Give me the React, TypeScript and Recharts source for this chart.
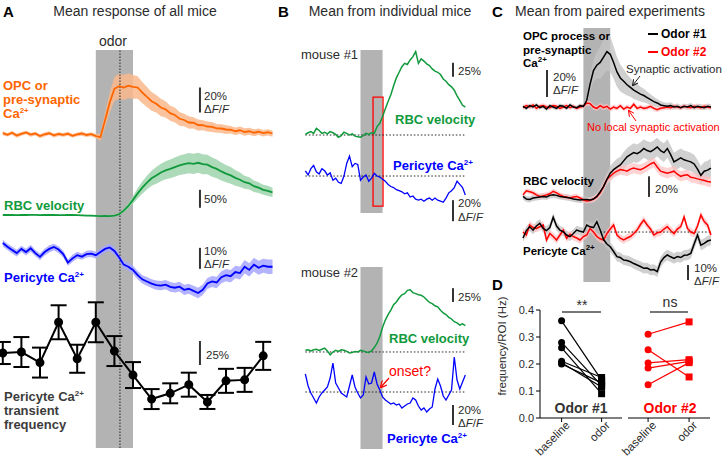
import React from 'react'
import { ComposedChart, LineChart, Line, Area, XAxis, YAxis, ReferenceArea, ReferenceLine, ErrorBar } from 'recharts'

const FONT = "'Liberation Sans', Arial, Helvetica, sans-serif"

// time grid (s), 0.5 s steps
const grid = (from: number, to: number) =>
  Array.from({ length: Math.round((to - from) / 0.5) + 1 }, (_, i) => from + i * 0.5)

const timeA = grid(-10, 19)
const timeB = grid(-10, 19)
const timeC = grid(-9, 19)

// ---- panel A: mean of all mice ----
const aOpc = [1.5, 0.2, 1.8, -0.5, 0.9, 2.0, 0.3, 1.2, -0.8, 0.6, 1.4, -0.3, 0.8, 0.1, 1.1, -0.6, 0.5, 1.2, 0.0, 0.7,
  -0.8, -1.8, 12, 26, 37, 39, 38, 39.5, 38.5, 38, 34, 30.5, 27, 25, 22, 20.5, 17.5, 16, 13, 12, 10, 9.8, 8, 7.8, 6.8, 6.5, 5.3, 5.2, 4.4, 4.2, 3.0, 3.8, 2.4, 3.0, 1.8, 2.6, 1.5, 2.2, 1.2]
const aOpcErr = [1.6, 1.4, 1.5, 1.7, 1.5, 1.4, 1.6, 1.5, 1.5, 1.7, 1.4, 1.6, 1.5, 1.5, 1.6, 1.4, 1.5, 1.7, 1.5, 1.6,
  1.8, 3, 6, 8, 9.5, 10, 10, 10, 9.5, 9, 8.5, 8, 7.5, 7, 7, 6.5, 6, 6, 5.5, 5, 5, 4.5, 4.5, 4, 4, 4, 3.5, 3.5, 3.5, 3, 3, 3, 3, 2.8, 2.8, 2.6, 2.6, 2.5, 2.5]
const aRbc = [0, 0.5, 0, -0.5, 0.3, 0, 0.5, 0.2, -0.3, 0, 0.4, 0, -0.5, -0.2, 0.3, 0, -0.5, -1, -1.5, -2,
  -2.5, -3, -2.5, -3, -1.5, 2, 12, 25, 42, 60, 76, 90, 102, 110, 118, 124, 128, 133, 138, 141, 144, 142, 145, 141, 140, 133, 128, 121, 115, 110, 103, 98, 91, 88, 80, 76, 70, 67, 63]
const aRbcErr = [1, 1, 1, 1, 1, 1, 1, 1, 1, 1, 1, 1, 1, 1, 1, 1, 1, 1.5, 1.5, 1.5,
  2, 2, 2, 2, 2.5, 3, 5, 8, 11, 14, 17, 19, 21, 23, 24, 25, 26, 27, 27, 28, 28, 28, 28, 28, 27, 27, 26, 25, 24, 23, 22, 20, 18, 17, 16, 15, 14, 14, 13]
const aPeri = [3.3, 1.5, 0, -1.5, 0.5, -1, 0.8, -1.5, -3.3, -1, 0.5, 1.4, 0.2, -2, -6, -4, -2.5, -3.2, -2, -1.8,
  -2.5, -1, 0.5, 1.2, -0.5, -3.5, -7, -8, -9.5, -12, -14, -15, -16, -16.7, -17, -16.5, -17.6, -18, -17.5, -19, -18.5, -19.5, -20.5, -19, -16, -15, -15.5, -13, -12, -12.5, -10.5, -11, -8, -9.5, -7, -8.5, -7.5, -8, -8]
const aPeriErr = [1.6, 1.5, 1.7, 1.6, 1.5, 1.6, 1.7, 1.5, 1.6, 1.6, 1.7, 1.5, 1.6, 1.6, 1.5, 1.7, 1.6, 1.5, 1.6, 1.6,
  1.6, 1.7, 1.6, 1.7, 1.8, 1.8, 1.9, 1.9, 2, 2, 2, 2.1, 2.1, 2.2, 2.2, 2.2, 2.3, 2.3, 2.3, 2.4, 2.4, 2.4, 2.5, 2.5, 2.6, 2.6, 2.7, 2.8, 2.9, 3, 3, 3.1, 3.2, 3.2, 3.3, 3.3, 3.3, 3.4, 3.4]
const freqTime = [-10, -8, -6, -4, -2, 0, 2, 4, 6, 8, 10, 12, 14, 16, 18]
const freqValue = [100, 101, 90, 132, 94, 132, 102, 77, 52, 58, 67, 49, 71, 72, 97]
const freqErr = [11.5, 15.6, 15.6, 17.7, 14.6, 20.8, 15.6, 13.5, 10.4, 10.4, 12.5, 7.3, 12.5, 12.5, 14.6]

// ---- panel B: individual mice ----
const m1Rbc = [1, 4, 6, 3, 12, 8, 3, 5, 2, 6, 4, 1, -4, -1, 5, 3, 0, 2, -2, -3,
  -4, -1, 3, 1, 4, 3, 15, 21, 33, 47, 60, 72, 88, 102, 112, 122, 128, 126, 134, 140, 149, 128, 136, 132, 127, 124, 118, 114, 112, 108, 100, 96, 90, 86, 80, 70, 62, 53, 50]
const m1Peri = [5, 1, 7, 10, 4, 2, 7, 5, 1, 3, -4, -2, -6, -7, 0, 12, 19, 9, 12, 11,
  -4, -1, 1, -5, -2, 2.5, 0, -1, -3, -5, -8, -10, -11, -13, -14, -15, -17, -16, -20, -19, -22, -23, -22, -24, -22, -21, -23, -21, -23, -24, -25, -21, -16, -14, -11, -5, -8, -11, -18]
const m2Rbc = [3, 4, 2, 4, 5, 3, 5, 7, 2, -5, 0, 3, 1, 4, 3, 1, -2, -1, 1, 0,
  3, 2, 0, -1, 2, 8, 16, 28, 45, 58, 68, 76, 86, 91, 98, 104, 106, 112, 113, 108, 106, 104, 103, 100, 95, 90, 88, 84, 82, 76, 71, 68, 63, 60, 55, 53, 49, 51, 48]
const m2Peri = [18, 6, -1, -6, -11, -5, -1, 2, 5, 14, 29, 9, 4, -1, -3, -5, 6, 17, 5, -1,
  -6, -3, 15, 8, 9, 20, 8, 2, -5, -8, -10, -12, -11, -13, -12, -16, -14, -12, -11, -6, -8, -14, -18, -16, -20, -17, -15, 3, 13, 6, -4, -8, -3, 2, 35, 12, 3, 10, 17]

// ---- panel C: paired experiments (odor #1 black, odor #2 red) ----
const cOpc1 = [0.5, -1, 1, 0, 1.5, -0.5, 0.5, -1.5, 1, 0, -1, 1, 0.5, -1, 1.5, 0, -0.5, 1,
  0.5, 5, 17, 27, 31, 33, 37, 41, 39, 33, 26, 21.5, 19, 16.5, 14.5, 12.5, 11, 9.5, 8.5, 7, 5.5, 4, 3, 1.5, 1, 0.5, 1, 0, 0.5, -0.5, 0.5, 0, 1, -0.5, 0.5, 0, -0.5, 0.5, 0]
const cOpc1Err = [1.5, 1.6, 1.5, 1.4, 1.6, 1.5, 1.5, 1.6, 1.4, 1.5, 1.6, 1.5, 1.5, 1.4, 1.6, 1.5, 1.5, 1.6,
  1.6, 3, 6, 8, 10, 12, 13, 14, 13, 12, 11, 10, 9, 8, 7, 6.5, 6, 5.5, 5, 4.5, 4, 3.5, 3, 3, 2.5, 2.5, 2.5, 2, 2, 2, 2, 2, 2, 2, 2, 2, 2, 2, 2]
const cOpc2 = [-0.5, 1, 0, 1.5, -1, 0.5, 1, 0, -0.5, 1, 0.5, -1, 0, 1, -0.5, 0.5, -1, 0,
  0.5, 3, 2.5, 0, -1, 1, -0.5, 0.5, -1.5, 0, -1, 1, -1.5, 0, -1, 2, -1, 0, -1, -0.5, 0.5, -1, -2, -1, -0.5, 0, -0.5, 0.5, 0, -0.5, 0.5, 0, -0.5, 0.5, 0, -0.5, 0.5, 0, -0.5]
const cOpc2Err = [1.8, 1.7, 1.8, 1.9, 1.8, 1.7, 1.8, 1.8, 1.9, 1.8, 1.7, 1.8, 1.8, 1.9, 1.8, 1.7, 1.8, 1.8,
  1.9, 2, 2, 2, 2, 1.9, 1.9, 1.9, 1.8, 1.8, 1.8, 1.8, 1.9, 1.8, 1.8, 1.8, 1.9, 1.8, 1.8, 1.8, 1.8, 1.9, 1.8, 1.8, 1.8, 1.8, 1.9, 1.8, 1.8, 1.8, 1.8, 1.9, 1.8, 1.8, 1.8, 1.8, 1.9, 1.8, 1.8]
const cRbc1 = [1.5, -1, -1.5, 0, 0.5, 1, 1.5, 1, 2.5, 3, 2.5, 1.5, 1, 0.5, 0, -1, -1.5, -2,
  -1.5, -1.5, -2, -1, 1.5, 6, 11, 18, 24, 27.5, 30, 32, 36, 40, 42, 44, 43, 45, 48, 46, 45, 47, 49.5, 46, 44, 48, 42, 35, 37, 39, 37, 36, 35, 33, 28, 22, 26, 27, 29]
const cRbc1Err = [3, 3, 3, 3, 3, 3, 3, 3, 3, 3, 3, 3, 3, 3, 3, 3, 3, 3,
  3, 3, 3, 3.5, 4, 5, 6, 6.5, 7, 7.5, 8, 8, 8.5, 8.5, 9, 9, 9, 9, 9, 9, 9, 9, 9, 9, 9, 9, 9, 9, 9, 9, 9, 9, 9, 9, 9, 9, 9, 9, 9]
const cRbc2 = [3, 7, 6, 5, 3, 1.5, 2, 3, 4, 6.5, 5, 3, 1.5, 1, 0, 1, 1.5, 0,
  -2, -3, -2.5, -1, 1, 5, 11, 18, 21, 24, 26, 27.5, 27, 26, 28, 29, 28, 27.5, 29, 31, 33, 34.5, 30, 26, 25, 24, 25, 26, 23, 21, 22, 22.5, 20, 19.5, 18.5, 17.8, 17, 16, 15.5]
const cRbc2Err = [2.5, 2.5, 2.5, 2.5, 2.5, 2.5, 2.5, 2.5, 2.5, 2.5, 2.5, 2.5, 2.5, 2.5, 2.5, 2.5, 2.5, 2.5,
  2.5, 2.5, 2.5, 3, 3, 3.5, 4, 4, 4.5, 4.5, 5, 5, 5, 5, 5, 5, 5, 5, 5, 5, 5, 5, 5, 5, 5, 5, 5, 5, 5, 5, 5, 5, 5, 5, 5, 5, 5, 5, 5]
const cPeri1 = [-4, 1, 3.5, 1.3, 4, 5.8, 2.4, 1, 3, 9.8, 4, 1.3, 0.2, -2, -3.1, -1, 1.3, 0.5,
  0, 4.7, 3.5, 3, 6.9, 1.3, -5, -8, -9.8, -13, -16.4, -17, -18.7, -19, -19.8, -21, -22, -23, -24.2, -24, -25.3, -25, -26.4, -20, -17, -15.3, -16.5, -17.6, -16.4, -17, -15.5, -15.3, -14.2, -8, -2, -8.7, -7.6, -6, -5.3]
const cPeri1Err = [2.8, 2.9, 2.8, 2.8, 2.9, 2.8, 2.8, 2.9, 2.8, 2.8, 2.9, 2.8, 2.8, 2.9, 2.8, 2.8, 2.9, 2.8,
  2.8, 2.9, 2.9, 3, 3, 3, 3.1, 3.1, 3.2, 3.2, 3.3, 3.3, 3.3, 3.4, 3.4, 3.4, 3.4, 3.5, 3.5, 3.5, 3.5, 3.5, 3.5, 3.5, 3.5, 3.5, 3.5, 3.5, 3.5, 3.5, 3.5, 3.5, 3.5, 3.5, 3.5, 3.5, 3.5, 3.5, 3.5]
const cPeri2 = [0, -2, 4.7, 3, 2.4, 3.5, 4.7, -5.3, -1, -3, -5.3, -2, 1.3, -4.2, -1.5, -3, -4, -5.3,
  -3, -2, 2.4, 0, -3, -4.5, -5.3, -1, 2, 4.7, -2, -4, -5.3, -4, -3, -1, 1.3, 5, 8, 4.7, 2, -2, -0.5, 0, 2, 3.6, 1, -1, 2, 3.6, 10, 2.4, 0, -1, 4, 11.3, 7, 4.7, -2]
const cPeri2Err = [2.5, 2.5, 2.6, 2.5, 2.5, 2.6, 2.5, 2.5, 2.6, 2.5, 2.5, 2.6, 2.5, 2.5, 2.6, 2.5, 2.5, 2.6,
  2.5, 2.5, 2.6, 2.5, 2.5, 2.6, 2.5, 2.5, 2.6, 2.5, 2.5, 2.6, 2.5, 2.5, 2.6, 2.5, 2.5, 2.6, 2.5, 2.5, 2.6, 2.5, 2.5, 2.6, 2.5, 2.5, 2.6, 2.5, 2.5, 2.6, 2.5, 2.5, 2.6, 2.5, 2.5, 2.6, 2.5, 2.5, 2.6]

// ---- panel D: transient frequency per ROI (Hz) ----
const conditions = ['baseline', 'odor']
const odor1Baseline = [0.36, 0.28, 0.26, 0.21, 0.205, 0.2]
const odor1Odor = [0.14, 0.12, 0.09, 0.15, 0.115, 0.13]
const odor2Baseline = [0.31, 0.253, 0.204, 0.185, 0.123]
const odor2Odor = [0.356, 0.152, 0.216, 0.21, 0.205]

const C = {
  orange: '#ff6600', orangeFill: '#f9b88c',
  green: '#119a3c', greenFill: '#9fd4ad',
  blue: '#0000ff', blueFill: '#a6a6ff',
  red: '#ff0000', redFill: '#ffc0c0',
  greyFill: '#c4c4c4', band: '#b3b3b3', text: '#2b2b2b',
}

const band = (v: number[], e: number[], i: number) => [v[i] - e[i], v[i] + e[i]]

const rowsA = timeA.map((t, i) => ({
  t,
  opc: aOpc[i], opcBand: band(aOpc, aOpcErr, i),
  rbc: aRbc[i], rbcBand: band(aRbc, aRbcErr, i),
  peri: aPeri[i], periBand: band(aPeri, aPeriErr, i),
}))
const rowsFreq = freqTime.map((t, i) => ({ t, f: freqValue[i], e: freqErr[i] }))
const rowsB = timeB.map((t, i) => ({ t, g1: m1Rbc[i], b1: m1Peri[i], g2: m2Rbc[i], b2: m2Peri[i] }))
const rowsC = timeC.map((t, i) => ({
  t,
  opc1: cOpc1[i], opc1Band: band(cOpc1, cOpc1Err, i),
  opc2: cOpc2[i], opc2Band: band(cOpc2, cOpc2Err, i),
  rbc1: cRbc1[i], rbc1Band: band(cRbc1, cRbc1Err, i),
  rbc2: cRbc2[i], rbc2Band: band(cRbc2, cRbc2Err, i),
  peri1: cPeri1[i], peri1Band: band(cPeri1, cPeri1Err, i),
  peri2: cPeri2[i], peri2Band: band(cPeri2, cPeri2Err, i),
}))
const pairRows = (base: number[], odor: number[]) =>
  [base, odor].map((vals, x) => {
    const row: any = { x }
    vals.forEach((v, i) => { row[`s${i}`] = v })
    return row
  })

const M = { top: 0, right: 0, bottom: 0, left: 0 }
const NA = false

// vertical scale bar drawn in the trace's own units
const bar = (axis: string, x: number, y1: number, y2: number) => (
  <ReferenceLine key={`${axis}-bar`} yAxisId={axis} segment={[{ x, y: y1 }, { x, y: y2 }]} stroke="#333" strokeWidth={2} ifOverflow="visible" />
)
const zero = (axis: string, from: number, to: number) => (
  <ReferenceLine key={`${axis}-zero`} yAxisId={axis} segment={[{ x: from, y: 0 }, { x: to, y: 0 }]} stroke="#222" strokeDasharray="1.5 2" strokeWidth={1} ifOverflow="visible" />
)

const pairDot = (color: string) => (p: any) => {
  const { cx, cy, index } = p
  if (cx == null || cy == null) return <g key={`n${index}`} />
  return index === 0
    ? <circle key={`c${index}`} cx={cx} cy={cy} r={3.5} fill={color} stroke="none" />
    : <rect key={`r${index}`} x={cx - 3.5} y={cy - 3.5} width={7} height={7} fill={color} stroke="none" />
}

const RotTick = (p: any) => {
  const { x, y, payload } = p
  const px = x + 9
  const py = y + 2
  return (
    <text x={px} y={py} transform={`rotate(-45, ${px}, ${py})`} textAnchor="end" fontSize={11.5} fill={C.text} fontFamily={FONT}>
      {conditions[payload.value]}
    </text>
  )
}

const Sup = ({ children }: { children: string }) => <tspan dy={-5} fontSize={8}>{children}</tspan>
const DFF = ({ x, y }: { x: number; y: number }) => (
  <text x={x} y={y} fontSize={11.5} fill={C.text}>Δ<tspan fontStyle="italic">F</tspan>/<tspan fontStyle="italic">F</tspan></text>
)

export default function App() {
  return (
    <div style={{ position: 'absolute', left: 0, top: 0, width: 725, height: 459, background: '#fff', overflow: 'hidden', fontFamily: FONT }}>
      {/* A: mean traces */}
      <div style={{ position: 'absolute', left: 0, top: 50 }}>
        <ComposedChart width={290} height={398} data={rowsA} margin={M}>
          <XAxis type="number" dataKey="t" domain={[-10.3, 20.88]} hide allowDataOverflow />
          <YAxis yAxisId="opc" domain={[-250.4, 68]} hide allowDataOverflow />
          <YAxis yAxisId="rbc" domain={[-647.2, 458.3]} hide allowDataOverflow />
          <YAxis yAxisId="peri" domain={[-94.3, 95.2]} hide allowDataOverflow />
          <ReferenceArea yAxisId="opc" x1={0} x2={4} fill={C.band} fillOpacity={1} stroke="none" zIndex={-50} />
          <ReferenceLine yAxisId="opc" x={2.6} stroke="#222" strokeDasharray="1.5 1.5" strokeWidth={1} />
          <Area yAxisId="opc" dataKey="opcBand" fill={C.orangeFill} fillOpacity={0.85} stroke="none" isAnimationActive={false} />
          <Area yAxisId="rbc" dataKey="rbcBand" fill={C.greenFill} fillOpacity={0.85} stroke="none" isAnimationActive={false} />
          <Area yAxisId="peri" dataKey="periBand" fill={C.blueFill} fillOpacity={0.85} stroke="none" isAnimationActive={false} />
          <Line yAxisId="opc" dataKey="opc" stroke={C.orange} strokeWidth={1.8} dot={NA} activeDot={NA} isAnimationActive={false} />
          <Line yAxisId="rbc" dataKey="rbc" stroke={C.green} strokeWidth={1.8} dot={NA} activeDot={NA} isAnimationActive={false} />
          <Line yAxisId="peri" dataKey="peri" stroke={C.blue} strokeWidth={1.8} dot={NA} activeDot={NA} isAnimationActive={false} />
          {bar('opc', 11.2, 18, 38)}
          {bar('rbc', 11.2, 20, 70)}
          {bar('peri', 11.2, -9, 1)}
        </ComposedChart>
      </div>
      {/* A: transient frequency */}
      <div style={{ position: 'absolute', left: 0, top: 50 }}>
        <ComposedChart width={290} height={398} data={rowsFreq} margin={M}>
          <XAxis type="number" dataKey="t" domain={[-10.3, 20.88]} hide allowDataOverflow />
          <YAxis yAxisId="f" domain={[1.04, 415.6]} hide allowDataOverflow />
          <Line yAxisId="f" dataKey="f" stroke="#000" strokeWidth={2} dot={{ r: 3.5, fill: '#000', stroke: '#000' }} activeDot={NA} isAnimationActive={false}>
            <ErrorBar dataKey="e" width={8} stroke="#000" strokeWidth={2} direction="y" />
          </Line>
          {bar('f', 11.2, 87.5, 112.5)}
        </ComposedChart>
      </div>

      {/* B: mouse #1 */}
      <div style={{ position: 'absolute', left: 300, top: 50 }}>
        <ComposedChart width={170} height={180} data={rowsB} margin={M}>
          <XAxis type="number" dataKey="t" domain={[-10.97, 19.85]} hide allowDataOverflow />
          <YAxis yAxisId="g" domain={[-169.6, 151.8]} hide allowDataOverflow />
          <YAxis yAxisId="b" domain={[-51.4, 120]} hide allowDataOverflow />
          <ReferenceArea yAxisId="b" x1={0} x2={4} y1={-35.2} y2={120} fill={C.band} fillOpacity={1} stroke="none" zIndex={-50} />
          {zero('g', -10, 19)}
          {zero('b', -10, 19)}
          <Line yAxisId="g" dataKey="g1" stroke={C.green} strokeWidth={1.5} dot={NA} activeDot={NA} isAnimationActive={false} />
          <Line yAxisId="b" dataKey="b1" stroke={C.blue} strokeWidth={1.3} dot={NA} activeDot={NA} isAnimationActive={false} />
          <ReferenceArea yAxisId="b" x1={2.27} x2={4.08} y1={-28.6} y2={75.2} fill="none" fillOpacity={0} stroke={C.red} strokeWidth={1.3} />
          {bar('g', 16.77, 104, 129)}
          {bar('b', 16.77, -43, -23)}
        </ComposedChart>
      </div>
      {/* B: mouse #2 */}
      <div style={{ position: 'absolute', left: 300, top: 267 }}>
        <ComposedChart width={170} height={182} data={rowsB} margin={M}>
          <XAxis type="number" dataKey="t" domain={[-10.97, 19.85]} hide allowDataOverflow />
          <YAxis yAxisId="g" domain={[-176.4, 154.5]} hide allowDataOverflow />
          <YAxis yAxisId="b" domain={[-57, 125]} hide allowDataOverflow />
          <ReferenceArea yAxisId="b" x1={0} x2={4} fill={C.band} fillOpacity={1} stroke="none" zIndex={-50} />
          {zero('g', -10, 19)}
          {zero('b', -10, 19)}
          <Line yAxisId="g" dataKey="g2" stroke={C.green} strokeWidth={1.5} dot={NA} activeDot={NA} isAnimationActive={false} />
          <Line yAxisId="b" dataKey="b2" stroke={C.blue} strokeWidth={1.3} dot={NA} activeDot={NA} isAnimationActive={false} />
          {bar('g', 16.77, 91, 116)}
          {bar('b', 16.77, -33, -13)}
        </ComposedChart>
      </div>

      {/* C: paired experiments */}
      <div style={{ position: 'absolute', left: 515, top: 28 }}>
        <ComposedChart width={205} height={254} data={rowsC} margin={M}>
          <XAxis type="number" dataKey="t" domain={[-10.19, 20.35]} hide allowDataOverflow />
          <YAxis yAxisId="opc" domain={[-129.6, 58.5]} hide allowDataOverflow />
          <YAxis yAxisId="rbc" domain={[-81.6, 165]} hide allowDataOverflow />
          <YAxis yAxisId="peri" domain={[-33.3, 136]} hide allowDataOverflow />
          <ReferenceArea yAxisId="opc" x1={0} x2={4} fill={C.band} fillOpacity={1} stroke="none" zIndex={-50} />
          <Area yAxisId="opc" dataKey="opc1Band" fill={C.greyFill} fillOpacity={0.8} stroke="none" isAnimationActive={false} />
          <Area yAxisId="opc" dataKey="opc2Band" fill={C.redFill} fillOpacity={0.7} stroke="none" isAnimationActive={false} />
          <Area yAxisId="rbc" dataKey="rbc1Band" fill={C.greyFill} fillOpacity={0.8} stroke="none" isAnimationActive={false} />
          <Area yAxisId="rbc" dataKey="rbc2Band" fill={C.redFill} fillOpacity={0.7} stroke="none" isAnimationActive={false} />
          <Area yAxisId="peri" dataKey="peri1Band" fill={C.greyFill} fillOpacity={0.8} stroke="none" isAnimationActive={false} />
          <Area yAxisId="peri" dataKey="peri2Band" fill={C.redFill} fillOpacity={0.7} stroke="none" isAnimationActive={false} />
          {zero('peri', 2.5, 19)}
          <Line yAxisId="opc" dataKey="opc2" stroke={C.red} strokeWidth={1.5} dot={NA} activeDot={NA} isAnimationActive={false} />
          <Line yAxisId="opc" dataKey="opc1" stroke="#000" strokeWidth={1.5} dot={NA} activeDot={NA} isAnimationActive={false} />
          <Line yAxisId="rbc" dataKey="rbc2" stroke={C.red} strokeWidth={1.5} dot={NA} activeDot={NA} isAnimationActive={false} />
          <Line yAxisId="rbc" dataKey="rbc1" stroke="#000" strokeWidth={1.5} dot={NA} activeDot={NA} isAnimationActive={false} />
          <Line yAxisId="peri" dataKey="peri2" stroke={C.red} strokeWidth={1.5} dot={NA} activeDot={NA} isAnimationActive={false} />
          <Line yAxisId="peri" dataKey="peri1" stroke="#000" strokeWidth={1.5} dot={NA} activeDot={NA} isAnimationActive={false} />
          {bar('opc', -5.42, 7.4, 27.4)}
          {bar('rbc', 9.77, 1, 21)}
          {bar('peri', 15.58, -32, -22)}
        </ComposedChart>
      </div>

      {/* D: odor #1 */}
      <div style={{ position: 'absolute', left: 480, top: 300 }}>
        <LineChart width={142} height={159} data={pairRows(odor1Baseline, odor1Odor)} margin={{ top: 10, right: 0, bottom: 0, left: 0 }}>
          <XAxis type="number" dataKey="x" domain={[-0.54, 1.51]} ticks={[0, 1]} interval={0} allowDataOverflow height={41}
            tickSize={4} tick={RotTick} axisLine={{ stroke: '#000' }} tickLine={{ stroke: '#000' }} />
          <YAxis domain={[0, 0.4]} ticks={[0, 0.1, 0.2, 0.3, 0.4]} width={60} tickSize={4} allowDataOverflow
            tickFormatter={(v: number) => v.toFixed(1)} tick={{ fontSize: 11, fill: C.text, fontFamily: FONT }}
            axisLine={{ stroke: '#000' }} tickLine={{ stroke: '#000' }} />
          {odor1Baseline.map((_, i) => (
            <Line key={i} dataKey={`s${i}`} stroke="#000" strokeWidth={1.2} dot={pairDot('#000')} activeDot={NA} isAnimationActive={false} />
          ))}
        </LineChart>
      </div>
      {/* D: odor #2 */}
      <div style={{ position: 'absolute', left: 598, top: 300 }}>
        <LineChart width={112} height={159} data={pairRows(odor2Baseline, odor2Odor)} margin={{ top: 10, right: 0, bottom: 0, left: 30 }}>
          <XAxis type="number" dataKey="x" domain={[-0.49, 1.51]} ticks={[0, 1]} interval={0} allowDataOverflow height={41}
            tickSize={4} tick={RotTick} axisLine={{ stroke: '#000' }} tickLine={{ stroke: '#000' }} />
          <YAxis domain={[0, 0.4]} hide allowDataOverflow />
          {odor2Baseline.map((_, i) => (
            <Line key={i} dataKey={`s${i}`} stroke={C.red} strokeWidth={1.2} dot={pairDot(C.red)} activeDot={NA} isAnimationActive={false} />
          ))}
        </LineChart>
      </div>

      {/* labels and annotations */}
      <svg width={725} height={459} style={{ position: 'absolute', left: 0, top: 0, pointerEvents: 'none' }} fontFamily={FONT}>
        <defs>
          <marker id="ahK" markerWidth="6" markerHeight="6" refX="5" refY="3" orient="auto">
            <path d="M0,0 L6,3 L0,6" fill="none" stroke="#222" strokeWidth="1" />
          </marker>
          <marker id="ahR" markerWidth="6" markerHeight="6" refX="5" refY="3" orient="auto">
            <path d="M0,0 L6,3 L0,6" fill="none" stroke={C.red} strokeWidth="1" />
          </marker>
        </defs>

        {/* A */}
        <text x={3} y={17} fontSize={15} fontWeight="bold" fill="#000">A</text>
        <text x={135} y={16} fontSize={14} textAnchor="middle" fill={C.text}>Mean response of all mice</text>
        <text x={113} y={46} fontSize={14} textAnchor="middle" fill={C.text}>odor</text>
        <g fontSize={13} fontWeight="bold" fill={C.orange}>
          <text x={3} y={90}>OPC or</text>
          <text x={3} y={104}>pre-synaptic</text>
          <text x={3} y={118}>Ca<Sup>2+</Sup></text>
        </g>
        <text x={204} y={100} fontSize={11.5} fill={C.text}>20%</text>
        <DFF x={204} y={113} />
        <text x={4} y={210} fontSize={13} fontWeight="bold" fill={C.green}>RBC velocity</text>
        <text x={204} y={203} fontSize={11.5} fill={C.text}>50%</text>
        <text x={204} y={255} fontSize={11.5} fill={C.text}>10%</text>
        <DFF x={204} y={268} />
        <text x={4} y={282} fontSize={13} fontWeight="bold" fill={C.blue}>Pericyte Ca<Sup>2+</Sup></text>
        <g fontSize={13} fontWeight="bold" fill="#3c3c3c">
          <text x={4} y={401}>Pericyte Ca<Sup>2+</Sup></text>
          <text x={4} y={415}>transient</text>
          <text x={4} y={429}>frequency</text>
        </g>
        <text x={206} y={359} fontSize={11.5} fill={C.text}>25%</text>

        {/* B */}
        <text x={278} y={17} fontSize={15} fontWeight="bold" fill="#000">B</text>
        <text x={390} y={16} fontSize={14} textAnchor="middle" fill={C.text}>Mean from individual mice</text>
        <text x={301} y={59} fontSize={13} fill={C.text}>mouse #1</text>
        <text x={395} y={124} fontSize={13} fontWeight="bold" fill={C.green}>RBC velocity</text>
        <text x={458} y={75} fontSize={11.5} fill={C.text}>25%</text>
        <text x={393} y={170} fontSize={13} fontWeight="bold" fill={C.blue}>Pericyte Ca<Sup>2+</Sup></text>
        <text x={458} y={207} fontSize={11.5} fill={C.text}>20%</text>
        <DFF x={458} y={221} />
        <text x={301} y={277} fontSize={13} fill={C.text}>mouse #2</text>
        <text x={389} y={343} fontSize={13} fontWeight="bold" fill={C.green}>RBC velocity</text>
        <text x={458} y={301} fontSize={11.5} fill={C.text}>25%</text>
        <text x={389} y={376} fontSize={14} fill={C.red}>onset?</text>
        <line x1={389} y1={378} x2={381} y2={387} stroke={C.red} strokeWidth={1.2} markerEnd="url(#ahR)" />
        <text x={458} y={414} fontSize={11.5} fill={C.text}>20%</text>
        <DFF x={458} y={427} />
        <text x={387} y={443} fontSize={13} fontWeight="bold" fill={C.blue}>Pericyte Ca<Sup>2+</Sup></text>

        {/* C */}
        <text x={492} y={17} fontSize={15} fontWeight="bold" fill="#000">C</text>
        <text x={610} y={16} fontSize={14} textAnchor="middle" fill={C.text}>Mean from paired experiments</text>
        <line x1={648} y1={34} x2={658} y2={34} stroke="#000" strokeWidth={2} />
        <text x={661} y={38} fontSize={12} fontWeight="bold" fill="#000">Odor #1</text>
        <line x1={648} y1={52} x2={658} y2={52} stroke={C.red} strokeWidth={2} />
        <text x={661} y={56} fontSize={12} fontWeight="bold" fill={C.red}>Odor #2</text>
        <g fontSize={11.5} fontWeight="bold" fill="#000">
          <text x={523} y={40}>OPC process or</text>
          <text x={523} y={54}>pre-synaptic</text>
          <text x={523} y={67}>Ca<Sup>2+</Sup></text>
          <text x={523} y={185}>RBC velocity</text>
          <text x={523} y={255}>Pericyte Ca<Sup>2+</Sup></text>
        </g>
        <text x={553} y={81} fontSize={11.5} fill={C.text}>20%</text>
        <DFF x={553} y={94} />
        <text x={626} y={73} fontSize={11.5} fill={C.text}>Synaptic activation</text>
        <line x1={640} y1={76} x2={633} y2={85} stroke="#222" strokeWidth={1} markerEnd="url(#ahK)" />
        <text x={587} y={131} fontSize={11} fill={C.red}>No local synaptic activation</text>
        <line x1={636} y1={121} x2={629} y2={111} stroke={C.red} strokeWidth={1} markerEnd="url(#ahR)" />
        <text x={655} y={193} fontSize={11.5} fill={C.text}>20%</text>
        <text x={694} y={272} fontSize={11.5} fill={C.text}>10%</text>
        <DFF x={694} y={285} />

        {/* D */}
        <text x={492} y={290} fontSize={15} fontWeight="bold" fill="#000">D</text>
        <text x={506} y={346} fontSize={11.5} textAnchor="middle" fill={C.text} transform="rotate(-90, 506, 346)">frequency/ROI (Hz)</text>
        <line x1={562} y1={312} x2={601} y2={312} stroke="#777" strokeWidth={2} />
        <text x={582} y={310} fontSize={14} textAnchor="middle" fill={C.text}>**</text>
        <line x1={650} y1={312} x2={688} y2={312} stroke="#777" strokeWidth={2} />
        <text x={670} y={307} fontSize={14} textAnchor="middle" fill={C.text}>ns</text>
        <text x={581} y={413} fontSize={14} fontWeight="bold" textAnchor="middle" fill="#333">Odor #1</text>
        <text x={670} y={413} fontSize={14} fontWeight="bold" textAnchor="middle" fill={C.red}>Odor #2</text>
      </svg>
    </div>
  )
}
